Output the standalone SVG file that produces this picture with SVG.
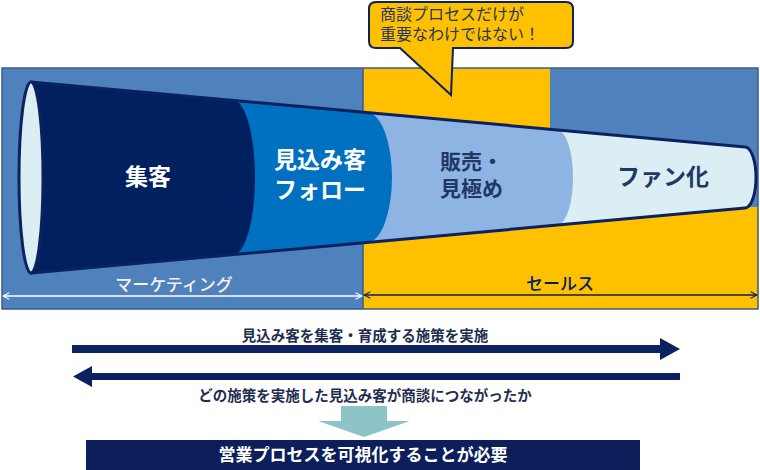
<svg xmlns="http://www.w3.org/2000/svg" width="760" height="470" viewBox="0 0 760 470">
<style>
text{font-family:"Noto Sans CJK JP","Noto Sans",sans-serif}
.b{font-weight:bold}
.w{fill:#ffffff}
.n{fill:#1f3864}
</style>
<defs>
<clipPath id="fc"><path d="M31,82 L745,147 A11,30.5 0 0 1 745,208 L31,273 Z"/></clipPath>
<marker id="ow" viewBox="0 0 10 10" refX="9" refY="5" markerWidth="8" markerHeight="8" orient="auto-start-reverse" markerUnits="userSpaceOnUse"><path d="M1,1 L9,5 L1,9" fill="none" stroke="#ffffff" stroke-width="1.3"/></marker>
<marker id="on" viewBox="0 0 10 10" refX="9" refY="5" markerWidth="8" markerHeight="8" orient="auto-start-reverse" markerUnits="userSpaceOnUse"><path d="M1,1 L9,5 L1,9" fill="none" stroke="#0c2160" stroke-width="1.3"/></marker>
</defs>
<rect width="760" height="470" fill="#ffffff"/>
<g id="background">
<rect x="2" y="68" width="361" height="241" fill="#4f81bd"/>
<rect x="363" y="68" width="395" height="241" fill="#ffc000"/>
<rect x="550" y="68" width="208" height="139" fill="#4f81bd"/>
<rect x="2" y="68" width="756" height="241" fill="none" stroke="#385d8a" stroke-width="1.5"/>
<line x1="363" y1="68" x2="363" y2="309" stroke="#385d8a" stroke-width="1.5"/>
</g>
<g id="callout">
<path d="M376,2 H566 Q573,2 573,9 V41 Q573,48 566,48 H453 L451,95 L400,48 H376 Q369,48 369,41 V9 Q369,2 376,2 Z" fill="#ffc000" stroke="#0c2160" stroke-width="2"/>
<text font-size="16" fill="#1f3864"><tspan x="380" y="20">商談プロセスだけが</tspan><tspan x="380" y="40">重要なわけではない！</tspan></text>
</g>
<g id="funnel">
<g clip-path="url(#fc)">
<rect x="0" y="60" width="760" height="240" fill="#dbeef4"/>
<path d="M0,60 H557 V130 A16,47.5 0 0 1 557,225 V300 H0 Z" fill="#8eb4e3"/>
<path d="M0,60 H367 V112.5 A25,65 0 0 1 367,242.5 V300 H0 Z" fill="#0070c0"/>
<path d="M0,60 H233 V100 A22,77.5 0 0 1 233,255 V300 H0 Z" fill="#002060"/>
</g>
<path d="M31,82 L745,147 A11,30.5 0 0 1 745,208 L31,273 Z" fill="none" stroke="#0c2160" stroke-width="3" stroke-linejoin="round"/>
<ellipse cx="31" cy="177.5" rx="12" ry="95.5" fill="#dbeef4" stroke="#0c2160" stroke-width="3"/>
</g>
<g id="node-shukyaku"><text x="148" y="185" font-size="23" class="b w" text-anchor="middle">集客</text></g>
<g id="node-follow">
<text font-size="23" class="b w" text-anchor="middle"><tspan x="320" y="168">見込み客</tspan><tspan x="320" y="198">フォロー</tspan></text>
</g>
<g id="node-hanbai">
<text font-size="21" class="b n"><tspan x="440" y="169">販売・</tspan><tspan x="440" y="196">見極め</tspan></text>
</g>
<g id="node-fan"><text x="663" y="185" font-size="23" class="b n" text-anchor="middle">ファン化</text></g>
<g id="connectors">
<line x1="3" y1="296" x2="362" y2="296" stroke="#ffffff" stroke-width="1.3" marker-start="url(#ow)" marker-end="url(#ow)"/>
<line x1="364" y1="295" x2="757" y2="295" stroke="#0c2160" stroke-width="1.3" marker-start="url(#on)" marker-end="url(#on)"/>
<path d="M72,345 H660 V338 L680,349 L660,360 V353 H72 Z" fill="#0c2160"/>
<path d="M680,373 H92 V366 L73,376.5 L92,387 V380 H680 Z" fill="#0c2160"/>
<path d="M341,406 H387 V421 H410 L364,437 L318,421 H341 Z" fill="#8cc4c8"/>
</g>
<g id="labels">
<text x="174" y="291" font-size="17" font-weight="500" fill="#f2f2f2" text-anchor="middle">マーケティング</text>
<text x="560" y="290" font-size="17" font-weight="500" fill="#002060" text-anchor="middle">セールス</text>
<text x="365" y="341" font-size="14.5" class="b" fill="#1f2d4f" text-anchor="middle">見込み客を集客・育成する施策を実施</text>
<text x="365" y="401" font-size="14.5" class="b" fill="#1f2d4f" text-anchor="middle">どの施策を実施した見込み客が商談につながったか</text>
</g>
<g id="node-conclusion">
<rect x="86" y="440" width="554" height="32" fill="#0c1f5b"/>
<text x="363" y="461" font-size="17" class="b w" text-anchor="middle">営業プロセスを可視化することが必要</text>
</g>
</svg>
